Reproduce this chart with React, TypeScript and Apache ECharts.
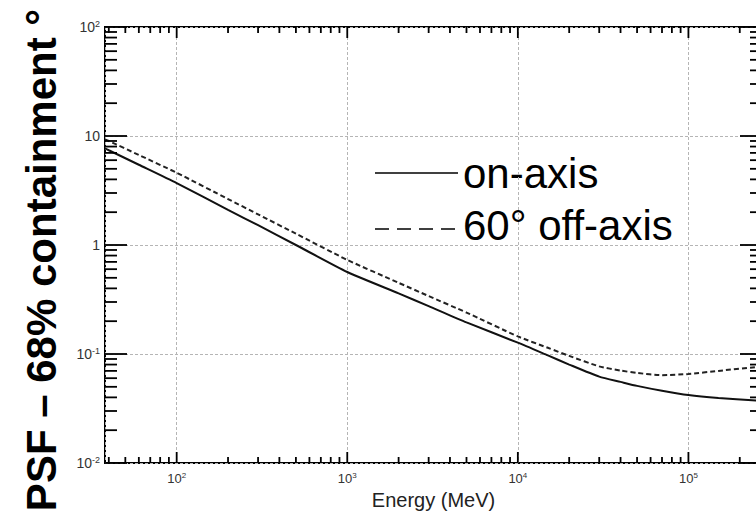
import React, { useEffect, useRef } from "react";
import * as echarts from "echarts";

// Energy (MeV) sample points
const energy = [38, 40, 60, 100, 200, 300, 500, 1000, 2000, 3000, 5000, 10000, 15000, 20000, 30000, 40000, 50000, 70000, 100000, 150000, 250000];
// PSF 68% containment (deg), on-axis
const onAxis = [7.7, 7.4, 5.45, 3.7, 2.1, 1.52, 1.0, 0.565, 0.36, 0.275, 0.195, 0.127, 0.097, 0.08, 0.062, 0.0555, 0.051, 0.046, 0.042, 0.0395, 0.0375];
// PSF 68% containment (deg), 60° off-axis
const offAxis60 = [9.3, 9.0, 6.7, 4.6, 2.64, 1.91, 1.27, 0.73, 0.45, 0.34, 0.24, 0.145, 0.114, 0.096, 0.077, 0.0705, 0.067, 0.064, 0.0655, 0.07, 0.076];

const seriesNames = ["on-axis", "60° off-axis"];
const xMajorTicks = [100, 1000, 10000, 100000];
const xMinorTicks = [
  40, 50, 60, 70, 80, 90,
  200, 300, 400, 500, 600, 700, 800, 900,
  2000, 3000, 4000, 5000, 6000, 7000, 8000, 9000,
  20000, 30000, 40000, 50000, 60000, 70000, 80000, 90000,
  200000,
];
const yMajorTicks = [0.01, 0.1, 1, 10, 100];
const yMinorTicks = [
  0.02, 0.03, 0.04, 0.05, 0.06, 0.07, 0.08, 0.09,
  0.2, 0.3, 0.4, 0.5, 0.6, 0.7, 0.8, 0.9,
  2, 3, 4, 5, 6, 7, 8, 9,
  20, 30, 40, 50, 60, 70, 80, 90,
];
const xTitle = "Energy (MeV)";
const yTitle = "PSF – 68% containment °";

const X_MIN = 38;
const X_MAX = 270000;
const Y_MIN = 0.01;
const Y_MAX = 100;

const FONT = "'Liberation Sans', Arial, Helvetica, sans-serif";

const xRich = {
  b: { fontSize: 13, fontFamily: FONT, color: "#333" },
  s: { fontSize: 8, fontFamily: FONT, color: "#333", padding: [0, 0, 7, 0] },
};
const yRich = {
  b: { fontSize: 14, fontFamily: FONT, color: "#333" },
  s: { fontSize: 9, fontFamily: FONT, color: "#333", padding: [0, 0, 7, 0] },
};

function xLabel(v: number) {
  const e = Math.round(Math.log10(v));
  return `{b|10}{s|${e}}`;
}
function yLabel(v: number) {
  const e = Math.round(Math.log10(v));
  if (e === 1) return "{b|10}";
  if (e === 0) return "{b|1}";
  return `{b|10}{s|${e}}`;
}

const tickStroke = { stroke: "#000", lineWidth: 1.8 };

// Ticks on bottom and top frame, positioned through the x scale
function xTickSeries(values: number[], len: number) {
  return {
    type: "custom",
    xAxisIndex: 0,
    yAxisIndex: 0,
    silent: true,
    clip: false,
    z: 5,
    data: values.map((v) => [v, Y_MIN]),
    renderItem: (_p: any, api: any) => {
      const v = api.value(0);
      const b = api.coord([v, Y_MIN]);
      const t = api.coord([v, Y_MAX]);
      return {
        type: "group",
        children: [
          { type: "line", shape: { x1: b[0], y1: b[1], x2: b[0], y2: b[1] - len }, style: tickStroke },
          { type: "line", shape: { x1: t[0], y1: t[1], x2: t[0], y2: t[1] + len }, style: tickStroke },
        ],
      };
    },
  };
}

// Ticks on left and right frame, positioned through the y scale
function yTickSeries(values: number[], len: number) {
  return {
    type: "custom",
    xAxisIndex: 0,
    yAxisIndex: 0,
    silent: true,
    clip: false,
    z: 5,
    data: values.map((v) => [X_MIN, v]),
    renderItem: (_p: any, api: any) => {
      const v = api.value(1);
      const l = api.coord([X_MIN, v]);
      const r = api.coord([X_MAX, v]);
      return {
        type: "group",
        children: [
          { type: "line", shape: { x1: l[0], y1: l[1], x2: l[0] + len, y2: l[1] }, style: tickStroke },
          { type: "line", shape: { x1: r[0], y1: r[1], x2: r[0] - len, y2: r[1] }, style: tickStroke },
        ],
      };
    },
  };
}

const gridLine = { show: true, lineStyle: { color: "#b5b5b5", width: 1, type: [3, 2] } };

export default function App() {
  const ref = useRef<HTMLDivElement>(null);
  useEffect(() => {
    const chart = echarts.init(ref.current!, null, { renderer: "svg" });
    const option: any = {
      animation: false,
      backgroundColor: "#fff",
      grid: {
        left: 105,
        top: 27,
        right: 8,
        bottom: 52,
        containLabel: false,
        outerBoundsMode: "none",
        show: true,
        borderColor: "#000",
        borderWidth: 2,
        backgroundColor: "transparent",
      },
      xAxis: {
        type: "log",
        logBase: 10,
        min: X_MIN,
        max: X_MAX,
        axisLine: { show: false },
        axisTick: { show: false },
        axisLabel: {
          show: true,
          customValues: xMajorTicks,
          formatter: xLabel,
          margin: 8,
          rich: xRich,
        },
        splitLine: gridLine,
        name: xTitle,
        nameLocation: "middle",
        nameGap: 24,
        nameTextStyle: { fontFamily: FONT, fontSize: 20, color: "#222" },
      },
      yAxis: {
        type: "log",
        logBase: 10,
        min: Y_MIN,
        max: Y_MAX,
        axisLine: { show: false },
        axisTick: { show: false },
        axisLabel: {
          show: true,
          customValues: yMajorTicks,
          formatter: yLabel,
          margin: 5,
          rich: yRich,
        },
        splitLine: gridLine,
      },
      graphic: [
        {
          type: "text",
          x: 41.5,
          y: 260,
          rotation: Math.PI / 2,
          style: {
            text: yTitle,
            fontFamily: FONT,
            fontWeight: "bold",
            fontSize: 42,
            fill: "#000",
            align: "center",
            verticalAlign: "middle",
          },
        },
        // legend
        {
          type: "line",
          shape: { x1: 375, y1: 173, x2: 458, y2: 173 },
          style: { stroke: "#000", lineWidth: 1.5 },
        },
        {
          type: "text",
          x: 463,
          y: 173,
          style: {
            text: seriesNames[0],
            fontFamily: FONT,
            fontSize: 42,
            fill: "#000",
            align: "left",
            verticalAlign: "middle",
          },
        },
        {
          type: "line",
          shape: { x1: 375, y1: 229, x2: 458, y2: 229 },
          style: { stroke: "#000", lineWidth: 1.5, lineDash: [14, 8] },
        },
        {
          type: "text",
          x: 463,
          y: 225,
          style: {
            text: seriesNames[1],
            fontFamily: FONT,
            fontSize: 42,
            fill: "#000",
            align: "left",
            verticalAlign: "middle",
          },
        },
      ],
      series: [
        {
          name: seriesNames[0],
          type: "line",
          xAxisIndex: 0,
          yAxisIndex: 0,
          symbol: "none",
          smooth: 0.2,
          z: 3,
          data: energy.map((e, i) => [e, onAxis[i]]),
          lineStyle: { color: "#111", width: 2, type: "solid" },
          itemStyle: { color: "#111" },
        },
        {
          name: seriesNames[1],
          type: "line",
          xAxisIndex: 0,
          yAxisIndex: 0,
          symbol: "none",
          smooth: 0.2,
          z: 3,
          data: energy.map((e, i) => [e, offAxis60[i]]),
          lineStyle: { color: "#222", width: 2, type: [5, 3] },
          itemStyle: { color: "#222" },
        },
        xTickSeries(xMajorTicks, 11),
        xTickSeries(xMinorTicks, 6),
        yTickSeries(yMajorTicks, 22),
        yTickSeries(yMinorTicks, 12),
      ],
    };
    chart.setOption(option);
    return () => chart.dispose();
  }, []);
  return (
    <div
      style={{
        position: "fixed",
        left: 0,
        top: 0,
        width: 756,
        height: 515,
        overflow: "hidden",
        background: "#fff",
      }}
    >
      <div ref={ref} style={{ width: 770, height: 515 }} />
    </div>
  );
}
